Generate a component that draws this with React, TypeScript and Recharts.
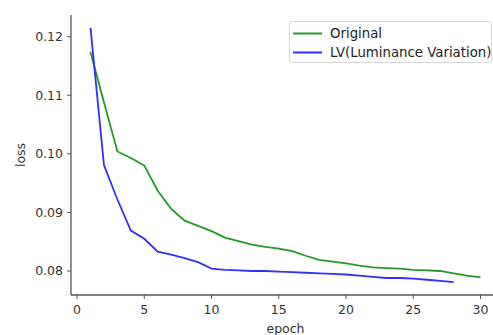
import React from 'react';
import { LineChart, Line, XAxis, YAxis, Legend } from 'recharts';

const epochs = [1,2,3,4,5,6,7,8,9,10,11,12,13,14,15,16,17,18,19,20,21,22,23,24,25,26,27,28,29,30];
const original = [0.1174,0.1088,0.1004,0.0993,0.0980,0.0937,0.0906,0.0886,0.0877,0.0868,0.0857,0.0851,0.0845,0.0841,0.0838,0.0834,0.0826,0.0819,0.0816,0.0813,0.0809,0.0806,0.0805,0.0804,0.0802,0.0801,0.0800,0.0796,0.0792,0.0789];
const lv = [0.1215,0.0981,0.0922,0.0869,0.0855,0.0833,0.0828,0.0822,0.0815,0.0804,0.0802,0.0801,0.0800,0.0800,0.0799,0.0798,0.0797,0.0796,0.0795,0.0794,0.0792,0.0790,0.0788,0.0788,0.0787,0.0785,0.0783,0.0781];
const xTicks = [0,5,10,15,20,25,30];
const yTicks = [0.08,0.09,0.10,0.11,0.12];
const seriesNames = ['Original', 'LV(Luminance Variation)'];

const data = epochs.map((e, i) => ({ epoch: e, original: original[i], lv: lv[i] }));

const GREEN = '#259925';
const BLUE = '#3030ff';
const FONT = '"DejaVu Sans", sans-serif';
const AXIS = '#555';
const TICK_FS = 12.5;

const LegendBox = () => (
  <div style={{ border: '1px solid #d8d8d8', borderRadius: 3, background: '#fff', width: 201, height: 40, position: 'relative', fontFamily: FONT, fontSize: 13.3, color: '#222' }}>
    {[GREEN, BLUE].map((c, i) => (
      <div key={i} style={{ position: 'absolute', left: 0, top: 3 + i * 19, height: 17, width: 200 }}>
        <svg width={32} height={17} style={{ position: 'absolute', left: 2, top: 0 }}>
          <line x1={1} x2={30} y1={8.5} y2={8.5} stroke={c} strokeWidth={2} />
        </svg>
        <span style={{ position: 'absolute', left: 40, top: 0, lineHeight: '17px', whiteSpace: 'nowrap' }}>{seriesNames[i]}</span>
      </div>
    ))}
  </div>
);

export default function App() {
  return (
    <div style={{ position: 'absolute', left: 0, top: 0, width: 493, height: 335, overflow: 'hidden', background: '#fff' }}>
      <LineChart width={510} height={335} data={data} margin={{ top: 15, right: 10, bottom: 0, left: 0 }}>
        <XAxis
          dataKey="epoch"
          type="number"
          domain={[-0.45, 31.45]}
          ticks={xTicks}
          allowDataOverflow
          height={40}
          tickSize={4}
          tickMargin={6}
          stroke={AXIS}
          axisLine={{ stroke: AXIS, strokeWidth: 1.3 }}
          tickLine={{ stroke: AXIS }}
          tick={{ fill: '#333', fontSize: TICK_FS, fontFamily: FONT }}
          label={{ value: 'epoch', position: 'insideBottom', offset: 2, fill: '#333', fontSize: TICK_FS, fontFamily: FONT }}
        />
        <XAxis
          xAxisId="top"
          orientation="top"
          dataKey="epoch"
          type="number"
          domain={[-0.45, 31.45]}
          height={0}
          tick={false}
          tickLine={false}
          axisLine={{ stroke: AXIS, strokeWidth: 1.3 }}
        />
        <YAxis
          type="number"
          domain={[0.0759, 0.1237]}
          ticks={yTicks}
          allowDataOverflow
          width={71}
          tickSize={4}
          tickMargin={4}
          tickFormatter={(v: number) => v.toFixed(2)}
          axisLine={{ stroke: AXIS, strokeWidth: 1.3 }}
          tickLine={{ stroke: AXIS }}
          tick={{ fill: '#333', fontSize: TICK_FS, fontFamily: FONT }}
          label={{
            content: (props: any) => {
              const vb = props.viewBox || { y: 15, height: 280 };
              const cy = vb.y + vb.height / 2;
              return (
                <text x={20} y={cy} transform={`rotate(-90, 20, ${cy})`} textAnchor="middle" dominantBaseline="central" fill="#333" fontSize={TICK_FS} fontFamily={FONT}>loss</text>
              );
            },
          }}
        />
        <Legend
          layout="vertical"
          align="center"
          verticalAlign="middle"
          content={() => <LegendBox />}
          wrapperStyle={{ position: 'absolute', left: 289, top: 21, width: 203, height: 42 }}
        />
        <Line type="linear" dataKey="original" stroke={GREEN} strokeWidth={1.8} dot={false} isAnimationActive={false} />
        <Line type="linear" dataKey="lv" stroke={BLUE} strokeWidth={1.8} dot={false} isAnimationActive={false} connectNulls={false} />
      </LineChart>
    </div>
  );
}
